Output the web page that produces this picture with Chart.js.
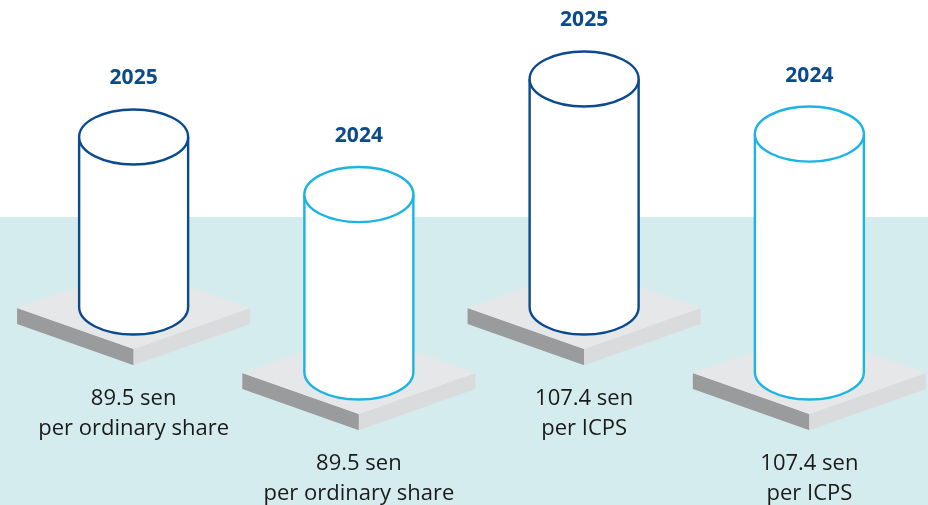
<!DOCTYPE html>
<html>
<head>
<meta charset="utf-8">
<script src="https://cdn.jsdelivr.net/npm/chart.js@4.4.1/dist/chart.umd.min.js"></script>
<style>
  html, body { margin: 0; padding: 0; background: #ffffff; }
  #wrap { width: 928px; height: 505px; }
</style>
</head>
<body>
<div id="wrap"><canvas id="grafico"></canvas></div>
<script>
// dados do gráfico
const categorias = ["ordinary-2025", "ordinary-2024", "icps-2025", "icps-2024"];
const anos = ["2025", "2024", "2025", "2024"];
const valores = [89.5, 89.5, 107.4, 107.4];
const unidades = ["per ordinary share", "per ordinary share", "per ICPS", "per ICPS"];
const anosSerie = ["2025", "2024"];

const coresAno = { "2025": "#0b4a8c", "2024": "#1bb4e3" };
const corTextoAno = "#0b4a8c";
const corTexto = "#1a1a1a";
const BASE = 37;

// um dataset por ano, cada um no seu eixo (o de 2025 fica deslocado para cima)
const datasets = anosSerie.map(ano => ({
    label: ano,
    data: valores.map((v, i) => anos[i] === ano ? v : null),
    base: BASE,
    yAxisID: ano === "2025" ? "y" : "y2",
    backgroundColor: "rgba(0,0,0,0)",
    borderWidth: 0,
    borderColor: coresAno[ano],
    barThickness: 111,
    skipNull: true
}));

const cilindros = {
    id: "cilindros",
    beforeDraw(chart) {
        const ctx = chart.ctx;
        ctx.save();
        ctx.fillStyle = "#ffffff";
        ctx.fillRect(0, 0, chart.width, chart.height);
        ctx.fillStyle = "#d5ecee";
        ctx.fillRect(0, 217, chart.width, chart.height - 217);
        ctx.restore();
    },
    afterDatasetsDraw(chart) {
        const ctx = chart.ctx;
        const barras = [];
        chart.data.datasets.forEach((ds, d) => {
            chart.getDatasetMeta(d).data.forEach((el, i) => {
                if (ds.data[i] == null) return;
                barras.push({ el, i, cor: ds.borderColor, ano: ds.label });
            });
        });
        barras.sort((a, b) => a.i - b.i);

        barras.forEach(({ el, i, cor, ano }) => {
            const { x, y, base, width } = el.getProps(["x", "y", "base", "width"], true);
            const rx = width / 2 - 1;
            const ry = width * 0.248;
            const hw = width * 1.05;
            const hh = width * 0.37;
            const th = width * 0.145;
            const c = base + 1;

            ctx.save();
            // base (plataforma)
            ctx.fillStyle = "#9a9b9d";
            ctx.beginPath();
            ctx.moveTo(x - hw, c); ctx.lineTo(x, c + hh); ctx.lineTo(x, c + hh + th); ctx.lineTo(x - hw, c + th);
            ctx.closePath(); ctx.fill();
            ctx.fillStyle = "#dadbdd";
            ctx.beginPath();
            ctx.moveTo(x, c + hh); ctx.lineTo(x + hw, c); ctx.lineTo(x + hw, c + th); ctx.lineTo(x, c + hh + th);
            ctx.closePath(); ctx.fill();
            ctx.fillStyle = "#e6e7e8";
            ctx.beginPath();
            ctx.moveTo(x - hw, c); ctx.lineTo(x, c - hh); ctx.lineTo(x + hw, c); ctx.lineTo(x, c + hh);
            ctx.closePath(); ctx.fill();

            // cilindro
            ctx.lineWidth = 2.4;
            ctx.strokeStyle = cor;
            ctx.fillStyle = "#ffffff";
            ctx.beginPath();
            ctx.moveTo(x - rx, y);
            ctx.lineTo(x - rx, base);
            ctx.ellipse(x, base, rx, ry, 0, Math.PI, 0, true);
            ctx.lineTo(x + rx, y);
            ctx.fill();
            ctx.stroke();
            ctx.beginPath();
            ctx.ellipse(x, y, rx, ry, 0, 0, Math.PI * 2);
            ctx.fill();
            ctx.stroke();

            // textos
            ctx.textAlign = "center";
            ctx.textBaseline = "middle";
            ctx.fillStyle = corTextoAno;
            ctx.font = "700 21px 'Open Sans'";
            ctx.fillText(ano, x, y - ry - 31);

            ctx.fillStyle = corTexto;
            ctx.font = "400 22px 'Open Sans'";
            const fundo = c + hh + th;
            ctx.fillText(valores[i] + " sen", x, fundo + 34);
            ctx.fillText(unidades[i], x, fundo + 64);
            ctx.restore();
        });
    }
};

new Chart(document.getElementById("grafico"), {
    type: "bar",
    data: { labels: categorias, datasets },
    options: {
        responsive: true,
        maintainAspectRatio: false,
        animation: false,
        layout: { padding: { left: 21, right: 6, top: 32, bottom: 133 } },
        plugins: { legend: { display: false }, tooltip: { enabled: false } },
        scales: {
            x: { display: false },
            y: { display: false, min: 16.94, max: 121.9 },
            y2: { display: false, min: 37, max: 137.6 }
        }
    },
    plugins: [cilindros]
});
</script>
</body>
</html>
